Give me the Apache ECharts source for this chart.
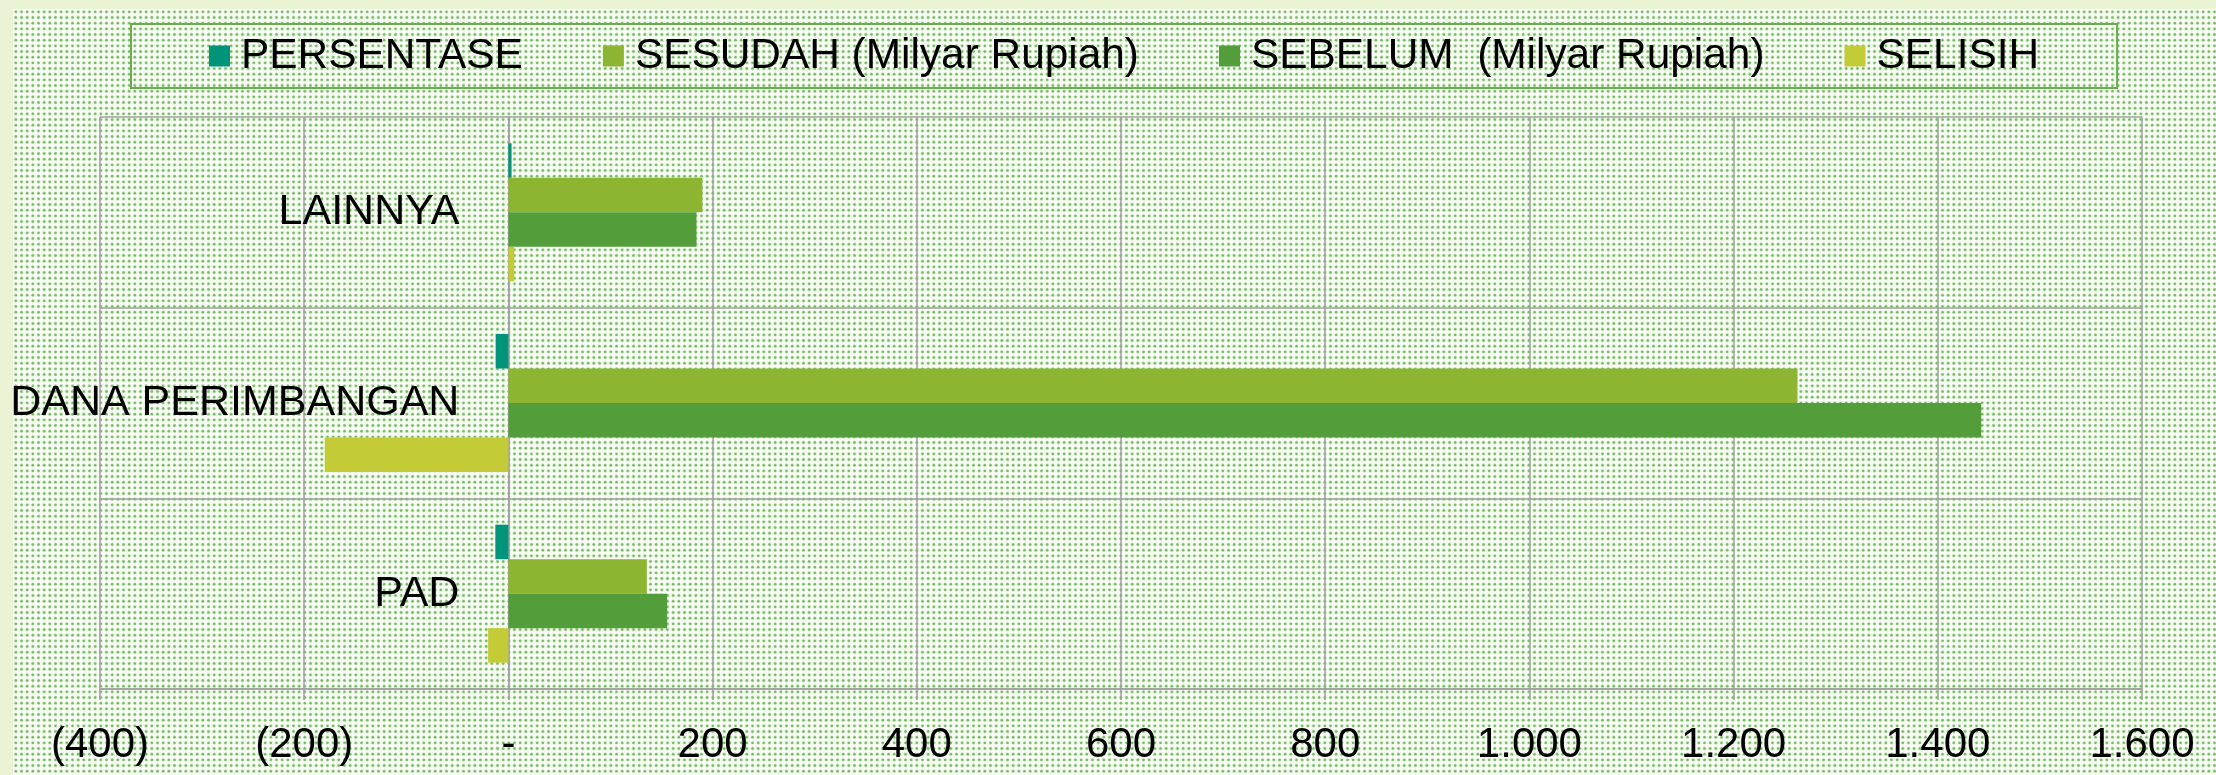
<!DOCTYPE html>
<html>
<head>
<meta charset="utf-8">
<title>Pendapatan</title>
<script src="https://cdn.jsdelivr.net/npm/echarts@6/dist/echarts.min.js"></script>
<style>
  html, body { margin: 0; padding: 0; background: #eaf4d5; }
  #chart { width: 2216px; height: 775px; }
</style>
</head>
<body>
<div id="chart"></div>
<script>
  // categories from bottom to top (y axis starts at the bottom)
  var categories = ["PAD", "DANA PERIMBANGAN", "LAINNYA"];

  var persentase = [-12.8, -12.5, 3.1];
  var sesudah = [135.6, 1262.6, 190.0];
  var sebelum = [155.5, 1442.5, 184.2];
  var selisih = [-19.9, -179.9, 5.8];

  var seriesNames = ["PERSENTASE", "SESUDAH (Milyar Rupiah)", "SEBELUM  (Milyar Rupiah)", "SELISIH"];
  var xTickLabels = ["(400)", "(200)", "-", "200", "400", "600", "800", "1.000", "1.200", "1.400", "1.600"];
  var xMin = -400, xMax = 1600, xStep = 200;

  var font = "'Liberation Sans', Arial, sans-serif";
  var gridColor = "#a0a0a0";
  var gridLeft = 100, gridRight = 74;

  // dotted fill like the excel pattern
  function makeDots() {
    var c = document.createElement("canvas");
    c.width = 17;
    c.height = 17;
    var ctx = c.getContext("2d");
    ctx.fillStyle = "#f8fcf5";
    ctx.fillRect(0, 0, 17, 17);
    for (var i = 0; i < 3; i++) {
      for (var j = 0; j < 3; j++) {
        var cx = 2.83 + i * 5.67, cy = 2.83 + j * 5.67;
        ctx.fillStyle = "#cfe8c6";
        ctx.beginPath();
        ctx.arc(cx, cy, 1.9, 0, Math.PI * 2);
        ctx.fill();
        ctx.fillStyle = "#74ba62";
        ctx.beginPath();
        ctx.arc(cx, cy, 1.2, 0, Math.PI * 2);
        ctx.fill();
      }
    }
    return c;
  }

  var chart = echarts.init(document.getElementById("chart"));

  function bar(name, data, color) {
    return {
      name: name,
      type: "bar",
      data: data,
      barWidth: 34.5,
      barGap: "0%",
      itemStyle: { color: color },
      animation: false
    };
  }

  // the category axis sits on x = 0, like excel draws it
  var plotWidth = 2216 - gridLeft - gridRight;
  var zeroShift = plotWidth * (0 - xMin) / (xMax - xMin);

  chart.setOption({
    backgroundColor: "#eaf4d5",
    textStyle: { fontFamily: font },
    graphic: [{
      type: "rect",
      left: 13,
      top: 9,
      z: -10,
      silent: true,
      shape: { width: 2216 - 13, height: 775 - 9 },
      style: { fill: { image: makeDots(), repeat: "repeat" } }
    }],
    legend: {
      left: 131,
      top: 24,
      padding: [10, 78],
      itemGap: 80,
      itemWidth: 21,
      itemHeight: 21,
      icon: "rect",
      borderColor: "#69ad4f",
      borderWidth: 2,
      data: seriesNames,
      textStyle: {
        fontSize: 42.4,
        lineHeight: 44,
        color: "#000",
        fontFamily: font,
        padding: [0, 0, 0, 6]
      }
    },
    grid: {
      left: gridLeft,
      right: gridRight,
      top: 117,
      bottom: 86,
      containLabel: false,
      outerBoundsMode: "none"
    },
    xAxis: {
      type: "value",
      min: xMin,
      max: xMax,
      interval: xStep,
      axisLine: { show: true, lineStyle: { color: gridColor, width: 1.5 } },
      axisTick: { show: true, length: 11, lineStyle: { color: gridColor, width: 1.5 } },
      splitLine: { show: true, lineStyle: { color: gridColor, width: 1.5 } },
      axisLabel: {
        fontSize: 42,
        color: "#000",
        fontFamily: font,
        margin: 35,
        formatter: function (v) {
          return xTickLabels[Math.round((v - xMin) / xStep)];
        }
      }
    },
    yAxis: {
      type: "category",
      data: categories,
      offset: -zeroShift,
      axisLine: { show: true, onZero: false, lineStyle: { color: gridColor, width: 1.5 } },
      axisTick: { show: false },
      splitLine: { show: true, lineStyle: { color: gridColor, width: 1.5 } },
      axisLabel: {
        fontSize: 43,
        color: "#000",
        fontFamily: font,
        margin: 49
      }
    },
    series: [
      bar(seriesNames[0], persentase, "#00957a"),
      bar(seriesNames[1], sesudah, "#8db532"),
      bar(seriesNames[2], sebelum, "#539d3b"),
      bar(seriesNames[3], selisih, "#c3cc36")
    ]
  });
</script>
</body>
</html>
